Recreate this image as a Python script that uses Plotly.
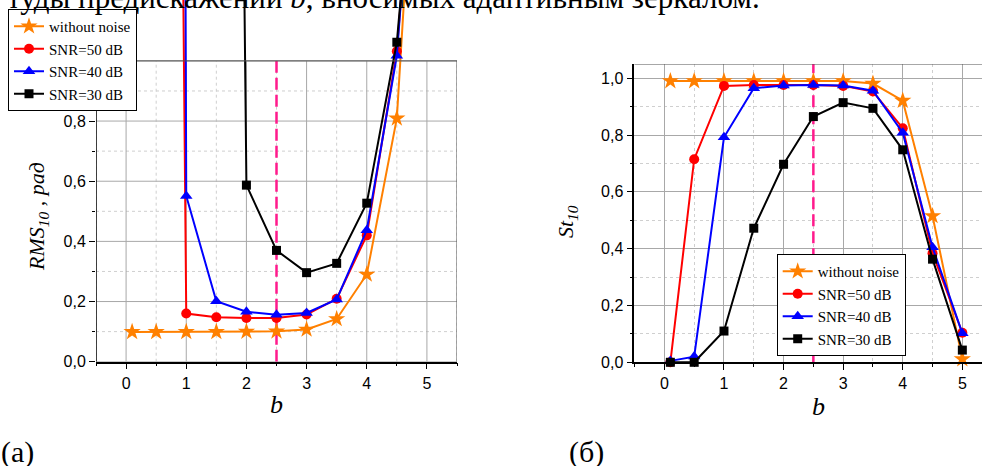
import plotly.graph_objects as go

W, H = 982, 466

# --- данные (а): RMS_10 ---
b_clean = [0.1, 0.5, 1, 1.5, 2, 2.5, 3, 3.5, 4, 4.5, 5]
rms_clean = [0.099, 0.099, 0.099, 0.099, 0.100, 0.101, 0.107, 0.142, 0.290, 0.809, 2.45]
b_50 = [0.5, 1, 1.5, 2, 2.5, 3, 3.5, 4, 4.5, 5]
rms_50 = [11.0, 0.160, 0.148, 0.145, 0.145, 0.157, 0.209, 0.420, 1.032, 2.30]
b_40 = [0.5, 1, 1.5, 2, 2.5, 3, 3.5, 4, 4.5, 5]
rms_40 = [30.0, 0.551, 0.201, 0.166, 0.156, 0.162, 0.207, 0.437, 1.017, 2.35]
b_30 = [1.5, 2, 2.5, 3, 3.5, 4, 4.5, 5]
rms_30 = [10.0, 0.587, 0.370, 0.296, 0.327, 0.527, 1.062, 2.20]

# --- данные (б): St_10 ---
b_st = [0.1, 0.5, 1, 1.5, 2, 2.5, 3, 3.5, 4, 4.5, 5]
st_clean = [0.990, 0.990, 0.990, 0.990, 0.990, 0.990, 0.990, 0.981, 0.921, 0.515, 0.011]
st_50 = [0.000, 0.715, 0.973, 0.976, 0.976, 0.976, 0.973, 0.953, 0.824, 0.384, 0.104]
st_40 = [0.005, 0.020, 0.792, 0.965, 0.974, 0.976, 0.974, 0.956, 0.808, 0.405, 0.102]
st_30 = [0.000, 0.000, 0.110, 0.472, 0.697, 0.865, 0.914, 0.894, 0.748, 0.363, 0.043]

names = ["without noise", "SNR=50 dB", "SNR=40 dB", "SNR=30 dB"]
colors = ["#FF8000", "#FF0000", "#0000FF", "#000000"]
symbols = ["star", "circle", "triangle-up", "square"]
sizes = [13, 10, 11, 9]

B_OPT = 2.5
x_ticks = [0, 1, 2, 3, 4, 5]
x_minor = [-0.5, 0.5, 1.5, 2.5, 3.5, 4.5, 5.5]
y_ticks = [0.0, 0.2, 0.4, 0.6, 0.8, 1.0]
y_minor = [0.1, 0.3, 0.5, 0.7, 0.9]

X1_RANGE = [-0.5, 5.5]
RMS_TOP = 1.0            # верх рамки (а), линии выходят выше
X2_RANGE = [-0.505, 5.33]
Y2_RANGE = [0, 1.05]

SERIF = "Liberation Serif, Times New Roman, serif"
SANS = "Liberation Sans, Arial, sans-serif"
MAJOR_GRID = "#a8a8a8"
MINOR_GRID = "#cfcfcf"
FRAME = "#505050"
PINK = "#FF1A8C"


def px_x(p):
    return p / W


def px_y(p):
    return 1 - p / H


fig = go.Figure()

# вертикальная линия b = 2.5
fig.add_trace(go.Scatter(x=[B_OPT, B_OPT], y=[0, RMS_TOP], mode="lines", showlegend=False,
                         line=dict(color=PINK, width=2.5, dash="12px,5px"),
                         xaxis="x", yaxis="y", hoverinfo="skip"))
fig.add_trace(go.Scatter(x=[B_OPT, B_OPT], y=Y2_RANGE, mode="lines", showlegend=False,
                         line=dict(color=PINK, width=2.5, dash="12px,5px"),
                         xaxis="x2", yaxis="y2", hoverinfo="skip"))

left = [(b_clean, rms_clean), (b_50, rms_50), (b_40, rms_40), (b_30, rms_30)]
for i, (xs, ys) in enumerate(left):
    fig.add_trace(go.Scatter(
        x=xs, y=ys, mode="lines+markers", name=names[i],
        line=dict(color=colors[i], width=2),
        marker=dict(symbol=symbols[i], size=sizes[i], color=colors[i]),
        xaxis="x", yaxis="y", legend="legend", cliponaxis=False
    ))

right = [st_clean, st_50, st_40, st_30]
for i, ys in enumerate(right):
    fig.add_trace(go.Scatter(
        x=b_st, y=ys, mode="lines+markers", name=names[i],
        line=dict(color=colors[i], width=2),
        marker=dict(symbol=symbols[i], size=sizes[i], color=colors[i]),
        xaxis="x2", yaxis="y2", legend="legend2", cliponaxis=False
    ))

axis_common = dict(
    zeroline=False, ticks="outside", ticklen=6, tickwidth=1, tickcolor="black",
    tickfont=dict(family=SANS, size=16, color="black"),
)


def make_axis(ticks, minor, fmt, grid):
    return dict(axis_common, tickmode="array", tickvals=ticks, tickformat=fmt,
                showgrid=grid, gridcolor=MAJOR_GRID, gridwidth=1,
                minor=dict(tickmode="array", tickvals=minor, ticks="outside", ticklen=3,
                           tickcolor="black", showgrid=grid, gridcolor=MINOR_GRID,
                           griddash="dot"))


fig.update_layout(
    xaxis=dict(make_axis(x_ticks, x_minor, "d", False), domain=[px_x(96), px_x(457)],
               range=X1_RANGE, anchor="y", showline=True, linecolor="black", linewidth=1.5),
    yaxis=dict(make_axis(y_ticks, y_minor, ".1f", False), domain=[px_y(361.7), 1.0],
               range=[0, 361.7 / 300.8], anchor="x", showline=False),
    xaxis2=dict(make_axis(x_ticks, x_minor, "d", True), domain=[px_x(634.3), 1.0],
                range=X2_RANGE, anchor="y2", showline=True, linecolor="black", linewidth=1.5),
    yaxis2=dict(make_axis(y_ticks, y_minor, ".1f", True), domain=[px_y(362.3), px_y(64)],
                range=Y2_RANGE, anchor="x2", showline=True, linecolor="black", linewidth=1.5),
)

# сетка (а) только внутри рамки [0, 1]
shapes = []
for xv in x_minor:
    shapes.append(dict(type="line", xref="x", yref="y", x0=xv, x1=xv, y0=0, y1=RMS_TOP,
                       line=dict(color=MINOR_GRID, width=1, dash="dot"), layer="below"))
for yv in y_minor:
    shapes.append(dict(type="line", xref="x", yref="y", x0=X1_RANGE[0], x1=X1_RANGE[1],
                       y0=yv, y1=yv, line=dict(color=MINOR_GRID, width=1, dash="dot"),
                       layer="below"))
for xv in x_ticks:
    shapes.append(dict(type="line", xref="x", yref="y", x0=xv, x1=xv, y0=0, y1=RMS_TOP,
                       line=dict(color=MAJOR_GRID, width=1), layer="below"))
for yv in y_ticks:
    shapes.append(dict(type="line", xref="x", yref="y", x0=X1_RANGE[0], x1=X1_RANGE[1],
                       y0=yv, y1=yv, line=dict(color=MAJOR_GRID, width=1), layer="below"))

# рамки
shapes += [
    dict(type="line", xref="x", yref="y", x0=X1_RANGE[0], x1=X1_RANGE[1], y0=RMS_TOP, y1=RMS_TOP,
         line=dict(color=FRAME, width=1)),
    dict(type="line", xref="x", yref="y", x0=X1_RANGE[1], x1=X1_RANGE[1], y0=0, y1=RMS_TOP,
         line=dict(color=FRAME, width=1)),
    dict(type="line", xref="x", yref="y", x0=X1_RANGE[0], x1=X1_RANGE[0], y0=0, y1=RMS_TOP,
         line=dict(color="black", width=1.5)),
    dict(type="line", xref="x2", yref="y2", x0=X2_RANGE[0], x1=X2_RANGE[1],
         y0=Y2_RANGE[1], y1=Y2_RANGE[1], line=dict(color=FRAME, width=1)),
]

legend_common = dict(
    xanchor="left", yanchor="top", bgcolor="white", bordercolor="black", borderwidth=1,
    font=dict(family=SERIF, size=15, color="black"), tracegroupgap=0, itemwidth=30,
)

annotations = [
    dict(text="<i>RMS<sub>10</sub> , рад</i>", x=px_x(38), y=px_y(217), textangle=-90,
         font=dict(family=SERIF, size=22, color="black")),
    dict(text="<i>St<sub>10</sub></i>", x=px_x(567), y=px_y(222), textangle=-90,
         font=dict(family=SERIF, size=22, color="black")),
    dict(text="<i>b</i>", x=px_x(276), y=px_y(404), font=dict(family=SERIF, size=26, color="black")),
    dict(text="<i>b</i>", x=px_x(818), y=px_y(406), font=dict(family=SERIF, size=26, color="black")),
    dict(text="(a)", x=px_x(17), y=px_y(452), font=dict(family=SERIF, size=30, color="black")),
    dict(text="(б)", x=px_x(586), y=px_y(452), font=dict(family=SERIF, size=30, color="black")),
]
for a in annotations:
    a.update(xanchor="center", yanchor="middle")
annotations.append(dict(text="туды предискажений <i>b</i>, вносимых адаптивным зеркалом.",
                        x=px_x(762), xanchor="right", y=px_y(-2), yanchor="middle",
                        font=dict(family=SERIF, size=31, color="black")))
for a in annotations:
    a.update(xref="paper", yref="paper", showarrow=False)

fig.update_layout(
    width=W, height=H, template="none",
    margin=dict(l=0, r=0, t=0, b=0),
    paper_bgcolor="white", plot_bgcolor="white",
    separators=", ",
    shapes=shapes, annotations=annotations,
    legend=dict(legend_common, x=px_x(8), y=px_y(9)),
    legend2=dict(legend_common, x=px_x(776.7), y=px_y(254)),
)

fig.write_html("out.html", config={"displayModeBar": False},
               post_script="document.body.style.margin = '0';")
